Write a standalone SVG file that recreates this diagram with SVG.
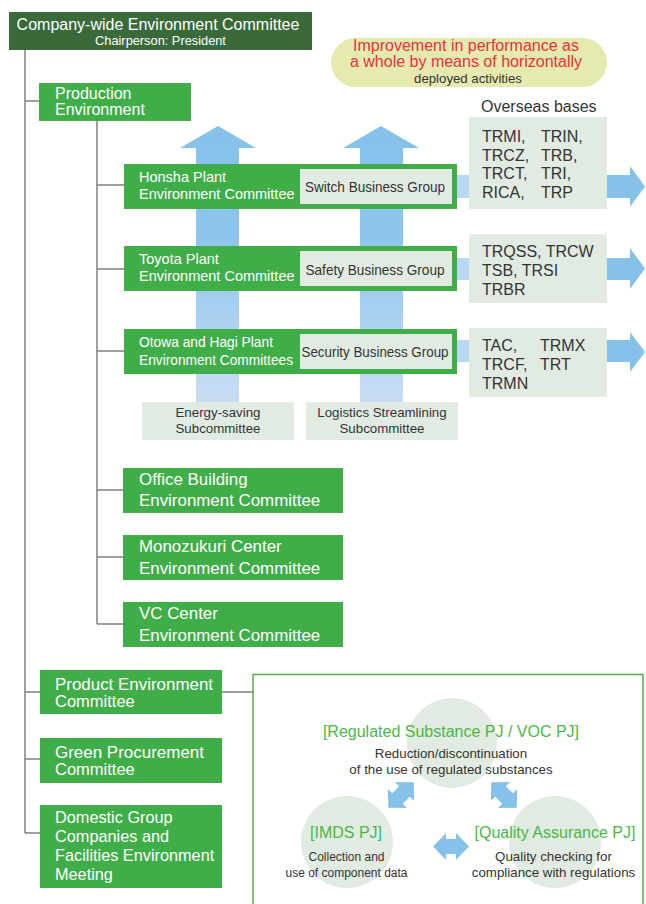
<svg xmlns="http://www.w3.org/2000/svg" width="646" height="904" viewBox="0 0 646 904">
<defs>
<style>
text{font-family:"Liberation Sans",Arial,sans-serif;}
.w{fill:#fff;font-size:16.9px;}
.w2{fill:#fff;font-size:16.5px;}
.wp{fill:#fff;font-size:14.5px;}
.d{fill:#333;font-size:15px;text-anchor:middle;}
.g{fill:#3fae49;}
.lt{fill:#e2ebe2;}
.ln{stroke:#808080;stroke-width:1.5;fill:none;}
.bl{fill:#86c1ea;}
.blt{fill:#b9d8f2;}
.ov{fill:#333;font-size:16px;}
.gt{fill:#4cb648;font-size:16px;text-anchor:middle;}
.ct{fill:#333;font-size:13.3px;text-anchor:middle;}
</style>
<linearGradient id="vg" x1="0" y1="126" x2="0" y2="402" gradientUnits="userSpaceOnUse">
<stop offset="0" stop-color="#86c1ea"/>
<stop offset="0.4" stop-color="#8fc5ec"/>
<stop offset="1" stop-color="#c8ddf3"/>
</linearGradient>
<path id="da" d="M-18,0 L-5,-13.5 L-5,-7.5 L5,-7.5 L5,-13.5 L18,0 L5,13.5 L5,7.5 L-5,7.5 L-5,13.5 Z"/>
</defs>
<rect width="646" height="904" fill="#fff"/>

<g id="connectors">
<path class="ln" d="M25,50 V833 M25,101 H39 M25,692 H40 M25,759 H40 M25,833 H40 M97,121 V624 M97,185 H124 M97,269 H124 M97,351 H124 M97,490 H123 M97,557 H123 M97,624 H123 M222,692 H253"/>
<path fill="url(#vg)" d="M196,402 V148 H180 L218,126 L256,148 H239 V402 Z"/>
<path fill="url(#vg)" d="M360,402 V148 H343 L381,126 L419,148 H403 V402 Z"/>
<rect class="blt" x="455" y="175" width="16" height="23"/>
<rect class="blt" x="455" y="258" width="16" height="22"/>
<rect class="blt" x="455" y="340" width="16" height="22"/>
<path class="bl" d="M607,175 H630 V166 L645,186.5 L630,207 V198 H607 Z"/>
<path class="bl" d="M607,258 H630 V248 L645,268.5 L630,289 V280 H607 Z"/>
<path class="bl" d="M607,340 H630 V332 L645,352 L630,372 V362 H607 Z"/>
</g>

<g id="top">
<rect x="9" y="12" width="303" height="38" fill="#3a6a39"/>
<text x="158" y="29.5" fill="#fff" font-size="16" text-anchor="middle">Company-wide Environment Committee</text>
<text x="160.5" y="45" fill="#fff" font-size="12.8" text-anchor="middle">Chairperson: President</text>
</g>

<g id="bubble">
<rect x="331" y="38" width="276" height="49" rx="24.5" fill="#e6eaaf"/>
<text x="466" y="51" fill="#e8323c" font-size="16" text-anchor="middle">Improvement in performance as</text>
<text x="466" y="67" fill="#e8323c" font-size="16" text-anchor="middle">a whole by means of horizontally</text>
<text x="468" y="83" fill="#333" font-size="13.2" text-anchor="middle">deployed activities</text>
</g>

<g id="production">
<rect class="g" x="39" y="83" width="152" height="38"/>
<text class="w" x="55" y="99" style="font-size:16px">Production</text>
<text class="w" x="55" y="114.5" style="font-size:16px">Environment</text>
</g>

<g id="honsha">
<rect class="g" x="124" y="164" width="333" height="45"/>
<rect class="lt" x="300" y="169" width="152" height="35"/>
<text class="wp" x="139" y="182">Honsha Plant</text>
<text class="wp" x="139" y="199">Environment Committee</text>
<text class="d" x="375" y="192" textLength="140" lengthAdjust="spacingAndGlyphs">Switch Business Group</text>
</g>

<g id="toyota">
<rect class="g" x="124" y="246" width="333" height="45"/>
<rect class="lt" x="300" y="251" width="152" height="35"/>
<text class="wp" x="139" y="264">Toyota Plant</text>
<text class="wp" x="139" y="281">Environment Committee</text>
<text class="d" x="375" y="275" textLength="139" lengthAdjust="spacingAndGlyphs">Safety Business Group</text>
</g>

<g id="otowa">
<rect class="g" x="124" y="329" width="333" height="45"/>
<rect class="lt" x="300" y="334" width="152" height="35"/>
<text class="wp" x="139" y="347" textLength="134" lengthAdjust="spacingAndGlyphs">Otowa and Hagi Plant</text>
<text class="wp" x="139" y="365" textLength="154" lengthAdjust="spacingAndGlyphs">Environment Committees</text>
<text class="d" x="375" y="357" textLength="147" lengthAdjust="spacingAndGlyphs">Security Business Group</text>
</g>

<g id="energy">
<rect class="lt" x="142" y="402" width="152" height="38"/>
<text class="ct" x="218" y="417">Energy-saving</text>
<text class="ct" x="218" y="433">Subcommittee</text>
</g>
<g id="logistics">
<rect class="lt" x="306" y="402" width="152" height="38"/>
<text class="ct" x="382" y="417">Logistics Streamlining</text>
<text class="ct" x="382" y="433">Subcommittee</text>
</g>

<g id="overseas-title">
<text class="ov" x="481" y="112">Overseas bases</text>
</g>
<g id="overseas1">
<rect class="lt" x="469" y="117" width="138" height="92"/>
<text class="ov" x="482" y="142">TRMI,</text><text class="ov" x="541" y="142">TRIN,</text>
<text class="ov" x="482" y="160.5">TRCZ,</text><text class="ov" x="541" y="160.5">TRB,</text>
<text class="ov" x="482" y="179">TRCT,</text><text class="ov" x="541" y="179">TRI,</text>
<text class="ov" x="482" y="198">RICA,</text><text class="ov" x="541" y="198">TRP</text>
</g>
<g id="overseas2">
<rect class="lt" x="469" y="234" width="138" height="69"/>
<text class="ov" x="482" y="257">TRQSS, TRCW</text>
<text class="ov" x="482" y="276">TSB, TRSI</text>
<text class="ov" x="482" y="295">TRBR</text>
</g>
<g id="overseas3">
<rect class="lt" x="469" y="328" width="138" height="69"/>
<text class="ov" x="482" y="351">TAC,</text><text class="ov" x="540" y="351">TRMX</text>
<text class="ov" x="482" y="370">TRCF,</text><text class="ov" x="540" y="370">TRT</text>
<text class="ov" x="482" y="388.5">TRMN</text>
</g>

<g id="office">
<rect class="g" x="123" y="468" width="220" height="45"/>
<text class="w" x="139" y="485">Office Building</text>
<text class="w" x="139" y="506">Environment Committee</text>
</g>
<g id="monozukuri">
<rect class="g" x="123" y="535" width="220" height="45"/>
<text class="w" x="139" y="552">Monozukuri Center</text>
<text class="w" x="139" y="574">Environment Committee</text>
</g>
<g id="vc">
<rect class="g" x="123" y="602" width="220" height="45"/>
<text class="w" x="139" y="619">VC Center</text>
<text class="w" x="139" y="641">Environment Committee</text>
</g>

<g id="product">
<rect class="g" x="40" y="670" width="182" height="44"/>
<text class="w2" x="55" y="690" textLength="158" lengthAdjust="spacingAndGlyphs">Product Environment</text>
<text class="w2" x="55" y="707">Committee</text>
</g>
<g id="green">
<rect class="g" x="40" y="738" width="182" height="45"/>
<text class="w2" x="55" y="758" textLength="149" lengthAdjust="spacingAndGlyphs">Green Procurement</text>
<text class="w2" x="55" y="775">Committee</text>
</g>
<g id="domestic">
<rect class="g" x="40" y="805" width="182" height="83"/>
<text class="w" x="55" y="823" style="font-size:16.3px">Domestic Group</text>
<text class="w" x="55" y="842" style="font-size:16.3px">Companies and</text>
<text class="w" x="55" y="861" style="font-size:16.3px">Facilities Environment</text>
<text class="w" x="55" y="879.5" style="font-size:16.3px">Meeting</text>
</g>

<g id="product-projects">
<rect x="253" y="674.5" width="390" height="240" fill="#fff" stroke="#4cb04c" stroke-width="1.5"/>
<circle cx="452" cy="743" r="45" fill="#e2ebe2"/>
<circle cx="347" cy="842" r="46" fill="#e2ebe2"/>
<circle cx="555" cy="842" r="46" fill="#e2ebe2"/>
<text class="gt" x="451" y="737">[Regulated Substance PJ / VOC PJ]</text>
<text class="ct" x="451" y="758">Reduction/discontinuation</text>
<text class="ct" x="451" y="774">of the use of regulated substances</text>
<text class="gt" x="346" y="838">[IMDS PJ]</text>
<text class="ct" x="346.5" y="861" style="font-size:12px">Collection and</text>
<text class="ct" x="346.5" y="877" style="font-size:12px">use of component data</text>
<text class="gt" x="555" y="838">[Quality Assurance PJ]</text>
<text class="ct" x="553.5" y="861">Quality checking for</text>
<text class="ct" x="553.5" y="877">compliance with regulations</text>
<use href="#da" class="bl" transform="translate(401,795) rotate(-45)"/>
<use href="#da" class="bl" transform="translate(504,795) rotate(45)"/>
<use href="#da" class="bl" transform="translate(451,846.5)"/>
</g>
</svg>
